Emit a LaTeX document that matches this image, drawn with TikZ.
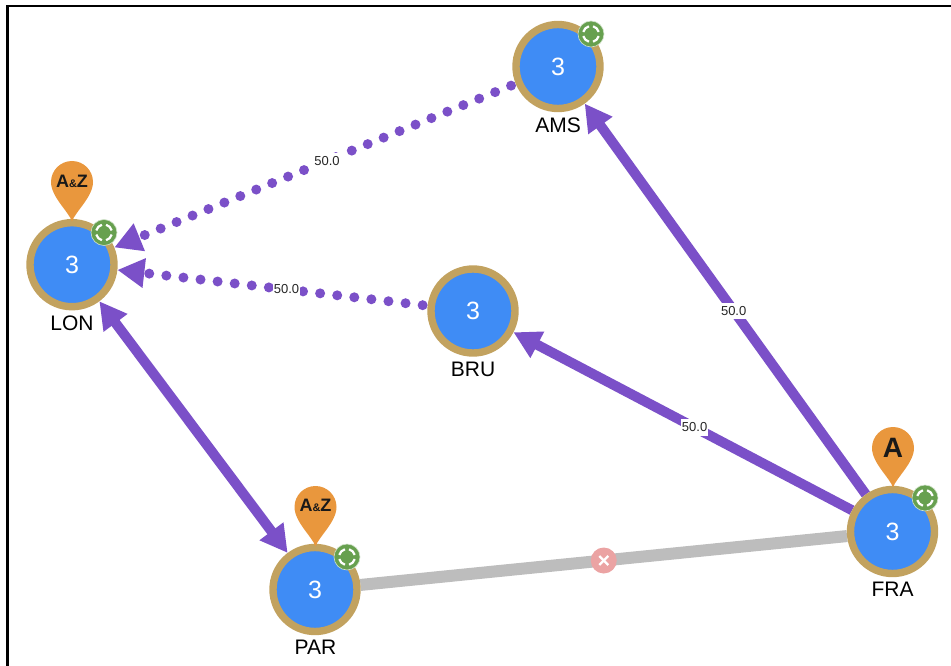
\documentclass[tikz,border=0pt]{standalone}
\usepackage{fontspec}
\setmainfont{Liberation Sans}
\usetikzlibrary{arrows.meta}
\definecolor{nodeblue}{HTML}{3F8CF5}
\definecolor{ringgold}{HTML}{C2A25F}
\definecolor{linkpurple}{HTML}{7B50C8}
\definecolor{linkgrey}{HTML}{BDBDBD}
\definecolor{pinorange}{HTML}{E9973D}
\definecolor{badgegreen}{HTML}{67A04F}
\definecolor{crosspink}{HTML}{EBA3A3}
\pgfdeclarelayer{links}
\pgfsetlayers{links,main}
\tikzset{
  router/.style={circle,draw=ringgold,fill=nodeblue,line width=7.4pt,minimum size=84pt,inner sep=0pt,outer sep=3.7pt,text=white,font=\fontsize{25}{25}\selectfont},
  caption/.style={font=\fontsize{21}{22}\selectfont,text=black,inner sep=0pt},
  edgelabel/.style={fill=white,inner xsep=1.2pt,inner ysep=3.5pt,font=\fontsize{13}{13}\selectfont,text=black!85},
  solidlink/.style={draw=linkpurple,line width=10pt},
  dotlink/.style={draw=linkpurple,line width=10pt,line cap=round,dash pattern=on 0pt off 17.2pt,shorten <=5pt},
  pinlabel/.style={font=\bfseries\fontsize{#1}{#1}\selectfont,text=black!90,inner sep=0pt},
  downlink/.style={draw=linkgrey,line width=12pt},
  hub/.style={circle,fill=crosspink,minimum size=26pt,inner sep=0pt},
}
\newcommand{\pinshape}[2]{% centre x, top y of the pin
  \fill[pinorange] (#1,#2+60.5) .. controls (#1-3,#2+51) and (#1-21,#2+36) .. (#1-21,#2+21)
    arc[start angle=180,end angle=0,radius=21pt]
    .. controls (#1+21,#2+36) and (#1+3,#2+51) .. cycle;}
\newcommand{\badgeshape}[3]{% name, x, y
  \node[circle,fill=badgegreen,draw=white!70!badgegreen,line width=.6pt,minimum size=26pt,inner sep=0pt] (#1) at (#2,#3) {};
  \foreach \a in {45,135,225,315}
    \draw[white,line width=2.2pt] ([shift={(\a-30:8pt)}]#1.center) arc[start angle=\a-30,end angle=\a+30,radius=8pt];}
\begin{document}
\begin{tikzpicture}[x=1pt,y=-1pt,
  hd/.tip={Triangle[length=27pt,width=28pt,fill=linkpurple,sep=0pt]}]
\useasboundingbox (0,0) rectangle (951,666);
\coordinate (tl) at (7.7,6.2);
\coordinate (tr) at (951,6.2);
\coordinate (bl) at (7.7,666);
\draw[black,line width=2.6pt,line cap=rect] (tr) -- (tl) -- (bl);

\node[router] (LON) at (72,264.7) {3};
\node[router] (AMS) at (558,66.5) {3};
\node[router] (BRU) at (473,311) {3};
\node[router] (PAR) at (315,589.5) {3};
\node[router] (FRA) at (892.5,531.5) {3};

\begin{pgfonlayer}{links}
\draw[downlink] (PAR) -- node[hub] (cross) {} (FRA);
\draw[solidlink,-{hd}] (FRA) -- node[pos=.47,edgelabel] (lab1) {50.0} (AMS);
\draw[solidlink,-{hd}] (FRA) -- node[pos=.465,edgelabel] (lab2) {50.0} (BRU);
\draw[solidlink,{hd}-{hd}] (LON) -- (PAR);
\draw[dotlink,-{hd}] (AMS) -- node[pos=.47,edgelabel] (lab3) {50.0} (LON);
\draw[dotlink,-{hd}] (BRU) -- node[pos=.455,edgelabel] (lab4) {50.0} (LON);
\end{pgfonlayer}

\draw[white,line width=2.2pt] ([shift={(-4.5pt,-4.5pt)}]cross.center) -- ([shift={(4.5pt,4.5pt)}]cross.center);
\draw[white,line width=2.2pt] ([shift={(-4.5pt,4.5pt)}]cross.center) -- ([shift={(4.5pt,-4.5pt)}]cross.center);

% pins
\pinshape{72}{161}
\pinshape{315.5}{486}
\pinshape{893}{427}
\node[pinlabel=18] (pinL) at (72,181) {A{\fontsize{11}{11}\selectfont\&}Z};
\node[pinlabel=18] (pinP) at (315.5,505) {A{\fontsize{11}{11}\selectfont\&}Z};
\node[pinlabel=28] (pinF) at (893,448) {A};

% badges
\badgeshape{bL}{104}{232.5}
\badgeshape{bA}{591}{34}
\badgeshape{bP}{347}{557}
\badgeshape{bF}{925}{498}

% captions
\node[caption] (capL) at (72,323) {LON};
\node[caption] (capA) at (558,125) {AMS};
\node[caption] (capB) at (473,369) {BRU};
\node[caption] (capP) at (315.5,647) {PAR};
\node[caption] (capF) at (892.5,589) {FRA};
\end{tikzpicture}
\end{document}
